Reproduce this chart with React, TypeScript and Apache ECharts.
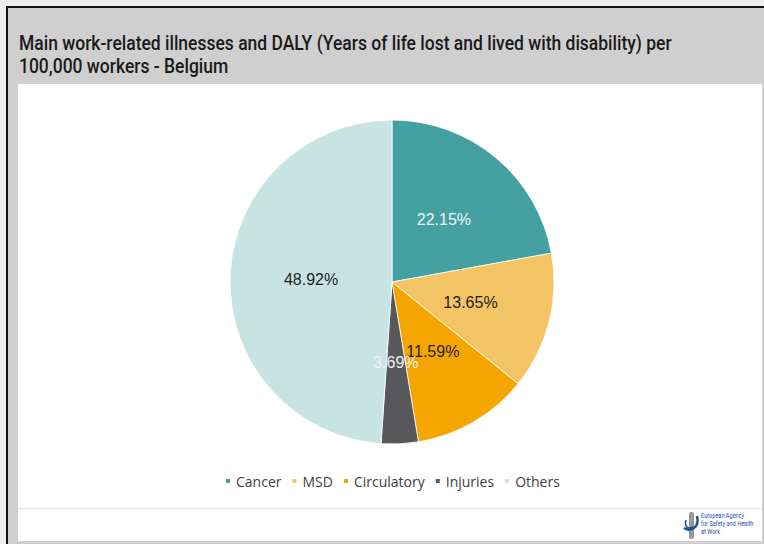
import React, { useEffect, useRef } from "react";
import * as echarts from "echarts";

const categories = ["Cancer", "MSD", "Circulatory", "Injuries", "Others"];
const shares = [22.15, 13.65, 11.59, 3.69, 48.92];
const sliceColors = ["#45a0a2", "#f2c464", "#f5a500", "#58585a", "#c8e4e2"];
const labelColors = ["#eaf5f5", "#1f1f1f", "#1f1f1f", "#f2f2f2", "#1f1f1f"];
const titleLines = [
  "Main work-related illnesses and DALY (Years of life lost and lived with disability) per",
  "100,000 workers - Belgium",
];
const logoLines = ["European Agency", "for Safety and Health", "at Work"];

const PIE_CENTER = [392, 282];
const PIE_RADIUS = 162;

export default function App() {
  const ref = useRef<HTMLDivElement>(null);
  useEffect(() => {
    if (!ref.current) return;
    const chart = echarts.init(ref.current, undefined, { renderer: "svg" });
    const W = 764;
    const H = 544;
    const total = shares.reduce((a, b) => a + b, 0);
    const option: any = {
      animation: false,
      backgroundColor: "#ededed",
      graphic: [
        { type: "rect", shape: { x: 6, y: 6, width: W - 6, height: 2 }, style: { fill: "#111" }, silent: true },
        { type: "rect", shape: { x: 6, y: 6, width: 2, height: H - 6 }, style: { fill: "#111" }, silent: true },
        { type: "rect", shape: { x: 8, y: 8, width: W - 8, height: H - 8 }, style: { fill: "#cfcfcf" }, silent: true },
        { type: "rect", shape: { x: 18, y: 84, width: W - 20, height: 457 }, style: { fill: "#ffffff" }, silent: true },
        { type: "rect", shape: { x: 18, y: 508, width: W - 20, height: 1.5 }, style: { fill: "#ebebeb" }, silent: true },
        ...titleLines.map((t, i) => ({
          type: "text",
          x: 19,
          y: 43 + i * 23,
          scaleX: 0.833,
          silent: true,
          style: {
            text: t,
            font: "500 21px Roboto",
            fill: "#1a1a1a",
            verticalAlign: "middle",
            align: "left",
          },
        })),
        {
          type: "rect",
          shape: { x: 689, y: 512, width: 5, height: 27, r: 2 },
          style: { fill: "#9a9a9a" },
          silent: true,
        },
        {
          type: "bezierCurve",
          shape: { x1: 697, y1: 516, cpx1: 700, cpy1: 528, cpx2: 690, cpy2: 532, x2: 684, y2: 528 },
          style: { stroke: "#1d4f9c", lineWidth: 2.5, fill: "none" },
          silent: true,
        },
        {
          type: "bezierCurve",
          shape: { x1: 686, y1: 520, cpx1: 684, cpy1: 526, cpx2: 688, cpy2: 530, x2: 693, y2: 527 },
          style: { stroke: "#1d4f9c", lineWidth: 1.5, fill: "none" },
          silent: true,
        },
        ...logoLines.map((t, i) => ({
          type: "text",
          x: 701,
          y: 516 + i * 8,
          scaleX: 0.8,
          silent: true,
          style: {
            text: t,
            font: "7px Roboto",
            fill: "#1d4f9c",
            verticalAlign: "middle",
            align: "left",
          },
        })),
      ],
      legend: {
        data: categories,
        left: 219,
        top: 469,
        icon: "rect",
        itemWidth: 6,
        itemHeight: 6,
        itemGap: 9,
        textStyle: { fontFamily: "Open Sans", fontSize: 14, color: "#404040" },
      },
      series: [
        {
          type: "pie",
          center: PIE_CENTER,
          radius: PIE_RADIUS,
          startAngle: 90,
          clockwise: true,
          avoidLabelOverlap: false,
          itemStyle: { borderColor: "#ffffff", borderWidth: 0.8 },
          label: { show: false },
          labelLine: { show: false },
          emphasis: { disabled: true },
          data: categories.map((name, i) => ({
            name,
            value: shares[i],
            itemStyle: { color: sliceColors[i] },
          })),
        },
        {
          type: "custom",
          coordinateSystem: "none",
          silent: true,
          z: 10,
          data: shares,
          renderItem: (params: any, api: any) => {
            const idx = params.dataIndex;
            let before = 0;
            for (let k = 0; k < idx; k++) before += shares[k];
            const mid = ((before + api.value(0) / 2) / total) * Math.PI * 2;
            const rr = PIE_RADIUS / 2;
            return {
              type: "text",
              x: PIE_CENTER[0] + rr * Math.sin(mid),
              y: PIE_CENTER[1] - rr * Math.cos(mid),
              style: {
                text: `${shares[idx].toFixed(2)}%`,
                fill: labelColors[idx],
                font: "16px 'Liberation Sans'",
                align: "center",
                verticalAlign: "middle",
              },
            };
          },
        },
      ],
    };
    chart.setOption(option);
    return () => chart.dispose();
  }, []);
  return (
    <div
      ref={ref}
      style={{ position: "fixed", left: 0, top: 0, width: 764, height: 544 }}
    />
  );
}
